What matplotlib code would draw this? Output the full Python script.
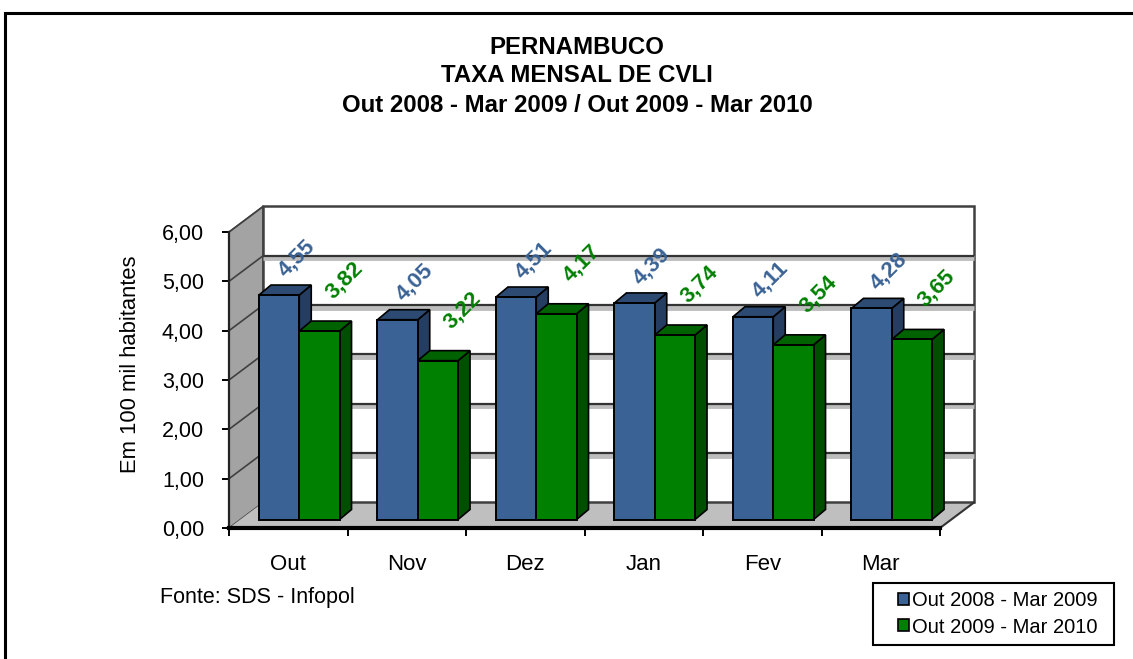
import matplotlib
matplotlib.use("Agg")
import matplotlib.pyplot as plt
from matplotlib.patches import Polygon, Rectangle, Patch

plt.rcParams['font.family'] = ['Liberation Sans', 'DejaVu Sans']

# ---- data ----
categories = ["Out", "Nov", "Dez", "Jan", "Fev", "Mar"]
series_names = ["Out 2008 - Mar 2009", "Out 2009 - Mar 2010"]
serie_2008_09 = [4.55, 4.05, 4.51, 4.39, 4.11, 4.28]
serie_2009_10 = [3.82, 3.22, 4.17, 3.74, 3.54, 3.65]
y_ticks = [0, 1, 2, 3, 4, 5, 6]
title_lines = ["PERNAMBUCO", "TAXA MENSAL DE CVLI",
               "Out 2008 - Mar 2009 / Out 2009 - Mar 2010"]

# ---- style ----
W, H = 1133, 659
front_colors = ["#3a6294", "#008000"]
top_colors = ["#2c4a72", "#006200"]
side_colors = ["#243d60", "#004f00"]
label_colors = ["#3a6294", "#008000"]

fig = plt.figure(figsize=(W / 100, H / 100), dpi=100)
ax = fig.add_axes([229 / W, 1 - 528 / H, (940 - 229) / W, 296 / H])
ax.set_xlim(0, len(categories))
ax.set_ylim(0, 6)
ax.patch.set_visible(False)

# oblique depth offsets (data units)
DXW, DYW = 0.287, 0.517      # wall depth
BX0, BY0 = 0.093, 0.172      # bar front plane
BDX, BDY = 0.101, 0.203      # bar depth
BW = 0.34
n = len(categories)
ymax = 6

# left wall
ax.add_patch(Polygon([(0, 0), (0, ymax), (DXW, ymax + DYW), (DXW, DYW)],
                     closed=True, facecolor="#a3a3a3", edgecolor="#404040",
                     lw=1.0, clip_on=False, zorder=0.5))
# floor
ax.add_patch(Polygon([(0, 0), (n, 0), (n + DXW, DYW), (DXW, DYW)],
                     closed=True, facecolor="#bfbfbf", edgecolor="none",
                     clip_on=False, zorder=0.5))
ax.plot([n, n + DXW], [0, DYW], color="#333333", lw=1.5, clip_on=False, zorder=0.7)
# back wall
ax.add_patch(Rectangle((DXW, DYW), n, ymax, facecolor="white",
                       edgecolor="#404040", lw=1.8, clip_on=False, zorder=0.6))

# gridlines
for v in y_ticks[1:-1]:
    ax.plot([DXW, n + DXW], [v + DYW - 0.05, v + DYW - 0.05], color="#bdbdbd",
            lw=3.5, clip_on=False, zorder=0.8, solid_capstyle="butt")
    ax.plot([DXW, n + DXW], [v + DYW, v + DYW], color="#333333", lw=1.6,
            clip_on=False, zorder=0.9, solid_capstyle="butt")
for v in y_ticks[1:]:
    ax.plot([0, DXW], [v, v + DYW], color="#404040", lw=1.2, clip_on=False, zorder=0.9)

# bars
series = [serie_2008_09, serie_2009_10]
lbl_dx = [0.143, 0.21]
lbl_dy = [0.75, 1.03]
for s, vals in enumerate(series):
    x0 = [i + 0.16 + BX0 + s * BW for i in range(n)]
    ax.bar(x0, vals, width=BW, bottom=BY0, align="edge",
           color=front_colors[s], edgecolor="black", lw=1.4, zorder=4)
    for xl, v in zip(x0, vals):
        top = BY0 + v
        xr = xl + BW
        ax.add_patch(Polygon([(xr, BY0), (xr, top), (xr + BDX, top + BDY),
                              (xr + BDX, BY0 + BDY)], closed=True,
                             facecolor=side_colors[s], edgecolor="black",
                             lw=1.2, zorder=3, clip_on=False))
        ax.add_patch(Polygon([(xl, top), (xr, top), (xr + BDX, top + BDY),
                              (xl + BDX, top + BDY)], closed=True,
                             facecolor=top_colors[s], edgecolor="black",
                             lw=1.2, zorder=3, clip_on=False))
        ax.text(xl + BW / 2 + lbl_dx[s], top + lbl_dy[s],
                f"{v:.2f}".replace(".", ","), rotation=45,
                rotation_mode="anchor", ha="center", va="center",
                fontsize=16, fontweight="bold", color=label_colors[s], zorder=5)

# axes styling
for sp in ["top", "right"]:
    ax.spines[sp].set_visible(False)
ax.spines["bottom"].set_linewidth(3)
ax.spines["bottom"].set_color("black")
ax.spines["left"].set_linewidth(1.6)
ax.spines["left"].set_color("#222222")
ax.spines["bottom"].set_zorder(6)

ax.set_yticks(y_ticks)
ax.set_yticklabels([f"{v:.2f}".replace(".", ",") for v in y_ticks], fontsize=15.5)
ax.tick_params(axis="y", length=5, width=1.4, pad=13, colors="black")
ax.set_xticks(range(n + 1))
ax.set_xticklabels([""] * (n + 1))
ax.set_xticks([i + 0.5 for i in range(n)], minor=True)
ax.set_xticklabels(categories, minor=True, fontsize=16)
ax.tick_params(axis="x", which="major", length=6, width=1.4, color="black")
ax.tick_params(axis="x", which="minor", length=0, pad=19)

# texts
for k, (line, yp) in enumerate(zip(title_lines, [48, 76, 105])):
    fig.text(577 / W, 1 - yp / H, line, ha="center", va="center",
             fontsize=17.3, fontweight="bold")
fig.text(130 / W, 1 - 364 / H, "Em 100 mil habitantes", rotation=90,
         ha="center", va="center", fontsize=15.8)
fig.text(160 / W, 1 - 597 / H, "Fonte: SDS - Infopol", ha="left",
         va="center", fontsize=15.5)

# legend (entries) + its frame box
handles = [Patch(facecolor=front_colors[i], edgecolor="black", lw=1.2)
           for i in range(2)]
leg = fig.legend(handles, series_names, loc="center",
                 bbox_to_anchor=((873 + 1114) / 2 / W + 4 / W, 1 - (583 + 645) / 2 / H),
                 fontsize=14.5, frameon=False, handlelength=0.55,
                 handleheight=0.55, handletextpad=0.15, labelspacing=0.35,
                 borderpad=0.35, borderaxespad=0)
fig.patches.append(Rectangle((873 / W, 1 - 645 / H), (1114 - 873) / W, 62 / H,
                             transform=fig.transFigure, fill=False,
                             edgecolor="black", lw=1.5))

# outer chart border (continues past right and bottom edges)
fig.patches.append(Rectangle((5 / W, 1 - 680 / H), 1200 / W, 667 / H,
                             transform=fig.transFigure, fill=False,
                             edgecolor="black", lw=2.2))

fig.savefig("out.png", dpi=100)
